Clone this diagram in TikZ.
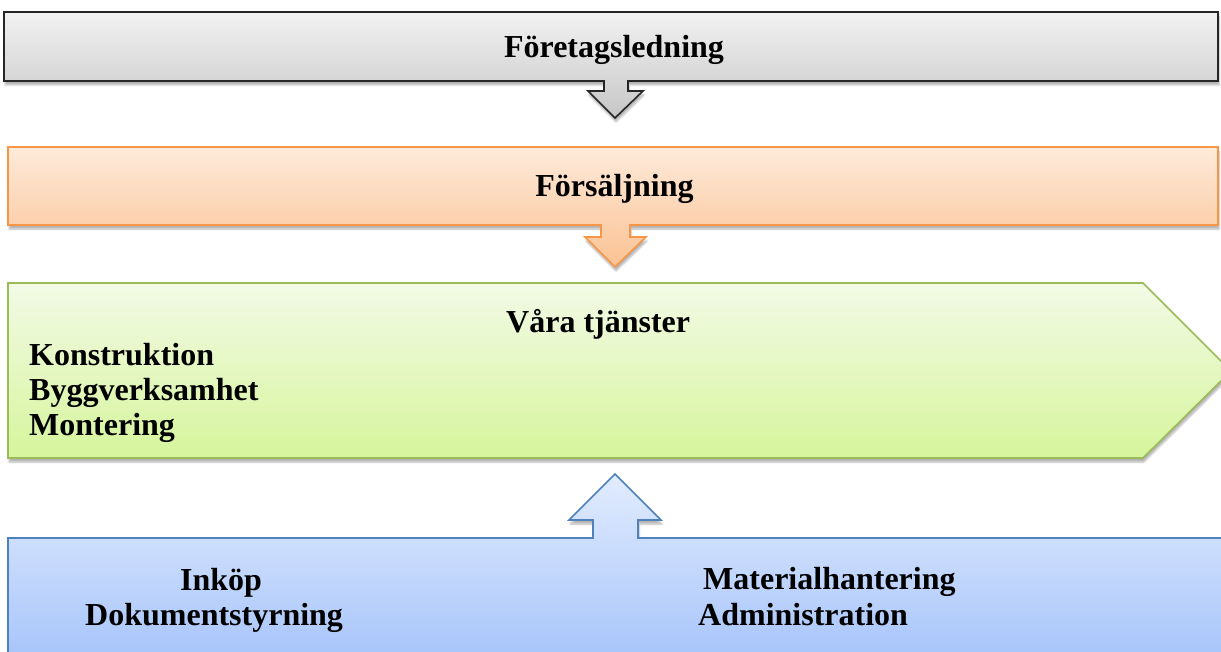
\documentclass[tikz,border=0pt]{standalone}
\usepackage{fontspec}
\setmainfont{Liberation Serif}
\usetikzlibrary{shadows.blur}
\definecolor{grayTop}{HTML}{F2F2F2}
\definecolor{grayBot}{HTML}{C6C6C6}
\definecolor{grayLine}{HTML}{262626}
\definecolor{orTop}{HTML}{FDEADA}
\definecolor{orBot}{HTML}{FBC293}
\definecolor{orLine}{HTML}{F79646}
\definecolor{grTop}{HTML}{F2FAE6}
\definecolor{grBot}{HTML}{D6F59C}
\definecolor{grLine}{HTML}{9BBB59}
\definecolor{blTop}{HTML}{E2ECFE}
\definecolor{blBot}{HTML}{A3C2FA}
\definecolor{blLine}{HTML}{4F81BD}
\tikzset{
  panel/.style={line width=1.6pt, line join=miter,
    blur shadow={shadow xshift=1pt, shadow yshift=-4pt, shadow opacity=30, shadow blur steps=6}},
  lbl/.style={inner sep=0pt, font=\fontsize{32}{35}\selectfont\bfseries, text=black},
}
\begin{document}
\begin{tikzpicture}[x=1pt,y=-1pt]
\useasboundingbox (0,0) rectangle (1221,652);
\clip (0,0) rectangle (1221,652);

% management box with its downward arrow
\path[panel, draw=grayLine, top color=grayTop, bottom color=grayBot]
  (4,12) -- (1218,12) -- (1218,81) -- (628,81) -- (628,91) -- (643,91)
  -- (615,118) -- (588,91) -- (604,91) -- (604,81) -- (4,81) -- cycle;

% sales box with its downward arrow
\path[panel, draw=orLine, top color=orTop, bottom color=orBot]
  (8,147) -- (1218,147) -- (1218,225) -- (630,225) -- (630,237) -- (646,237)
  -- (615,267) -- (585,237) -- (601,237) -- (601,225) -- (8,225) -- cycle;

% services pentagon
\path[panel, draw=grLine, top color=grTop, bottom color=grBot]
  (8,283) -- (1143,283) -- (1231,371) -- (1143,458) -- (8,458) -- cycle;

% support box with its upward arrow
\path[panel, draw=blLine, top color=blTop, bottom color=blBot]
  (8,670) -- (8,538) -- (593,538) -- (593,520) -- (569,520) -- (615,474)
  -- (661,520) -- (638,520) -- (638,538) -- (1240,538) -- (1240,670) -- cycle;

% labels
\node[lbl, anchor=base] (mgmt) at (614,58) {Företagsledning};
\node[lbl, anchor=base] (sales) at (614.5,197) {Försäljning};
\node[lbl, anchor=base west] (serv) at (506,333) {Våra tjänster};
\node[lbl, anchor=base west] (s1) at (29,365) {Konstruktion};
\node[lbl, anchor=base west] (s2) at (29,400) {Byggverksamhet};
\node[lbl, anchor=base west] (s3) at (29,435) {Montering};
\node[lbl, anchor=base west] (b1) at (180,590) {Inköp};
\node[lbl, anchor=base west] (b2) at (85,625) {Dokumentstyrning};
\node[lbl, anchor=base west] (b3) at (703,589) {Materialhantering};
\node[lbl, anchor=base west] (b4) at (698,625) {Administration};
\end{tikzpicture}
\end{document}
